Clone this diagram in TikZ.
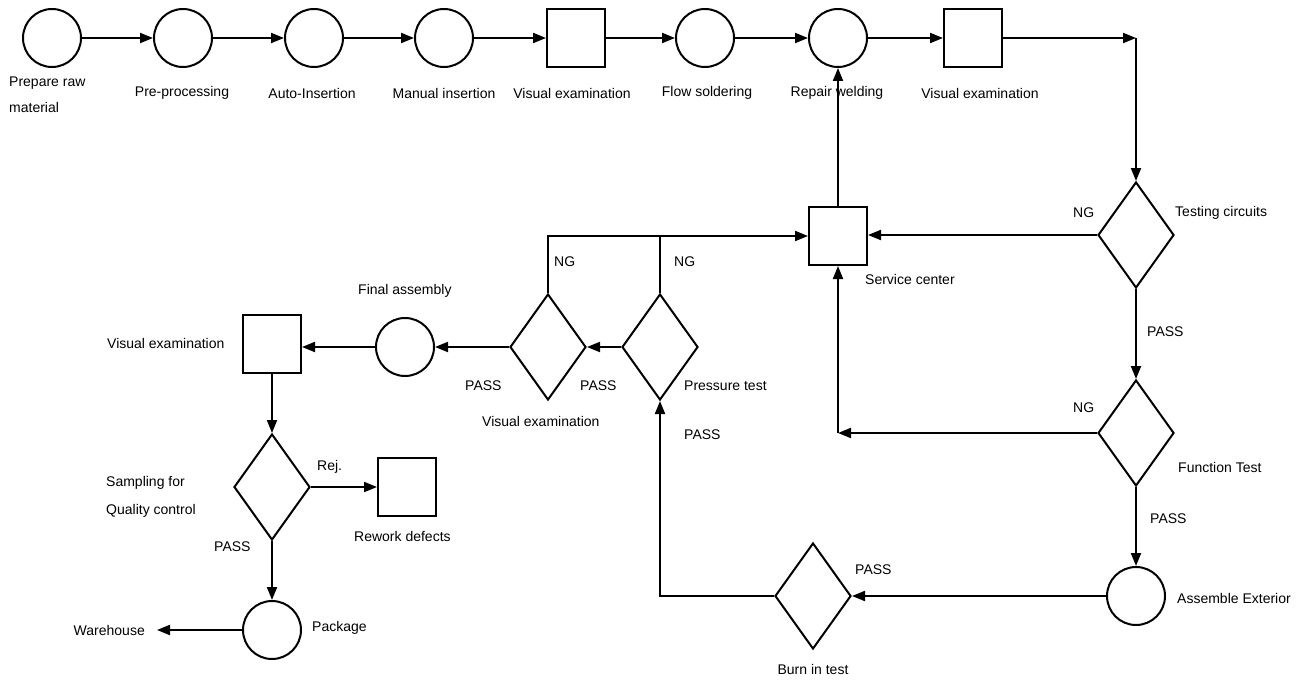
\documentclass[tikz,border=0pt]{standalone}
\usepackage{fontspec}
\setmainfont{Liberation Sans}
\usetikzlibrary{arrows.meta,shapes.geometric}
\begin{document}
\begin{tikzpicture}[x=1pt,y=-1pt,
  lbl/.style={font=\fontsize{14}{17}\selectfont, inner sep=0pt},
  circ/.style={draw, circle, line width=2pt, minimum size=58pt, inner sep=0pt},
  sqr/.style={draw, rectangle, line width=2pt, minimum size=58pt, inner sep=0pt},
  dia/.style={draw, diamond, line width=2pt, minimum width=76pt, minimum height=106pt, inner sep=0pt},
  conn/.style={line width=2pt},
  arr/.style={line width=2pt, -{Triangle[length=13pt,width=10pt]}}]
\useasboundingbox (0,0) rectangle (1306,682);
% top row
\node[circ] (c1) at (52,38) {};
\node[circ] (c2) at (183,38) {};
\node[circ] (c3) at (314,38) {};
\node[circ] (c4) at (444,38) {};
\node[sqr]  (s1) at (576,38) {};
\node[circ] (c5) at (705,38) {};
\node[circ] (rw) at (838,38) {};
\node[sqr]  (s2) at (973,38) {};
\coordinate (k1) at (1136,38);
% right column
\node[dia] (tc) at (1136,235) {};
\node[sqr] (sc) at (838,236) {};
\node[dia] (ft) at (1136,433) {};
\coordinate (k2) at (838,433);
\node[circ] (ae) at (1136,596) {};
\node[dia] (bt) at (813,596) {};
% middle row
\node[dia] (pt) at (660,347) {};
\node[dia] (vd) at (548,347) {};
\node[circ] (fa) at (405,347) {};
\node[sqr] (ve) at (272,344) {};
\node[dia] (sq) at (272,487) {};
\node[sqr] (rd) at (407,487) {};
\node[circ] (pk) at (272,630) {};
\node[lbl, anchor=east] (wh) at (145,630) {Warehouse};
% labels
\node[lbl, anchor=west, align=left, font=\fontsize{14}{26}\selectfont] (l1) at (9,95) {Prepare raw\\material};
\node[lbl] (l2) at (182,93) {Pre-processing};
\node[lbl] (l3) at (312,93) {Auto-Insertion};
\node[lbl] (l4) at (444,93) {Manual insertion};
\node[lbl] (l5) at (572,93) {Visual examination};
\node[lbl] (l6) at (707,93) {Flow soldering};
\node[lbl] (l7) at (837,93) {Repair welding};
\node[lbl] (l8) at (980,93) {Visual examination};
\node[lbl, anchor=west] (l9) at (1073,213) {NG};
\node[lbl, anchor=west] (l10) at (1175,213) {Testing circuits};
\node[lbl, anchor=west] (l11) at (865,279) {Service center};
\node[lbl, anchor=west] (l12) at (1147,332) {PASS};
\node[lbl, anchor=west] (l13) at (1073,408) {NG};
\node[lbl, anchor=west] (l14) at (1178,467) {Function Test};
\node[lbl, anchor=west] (l15) at (1150,519) {PASS};
\node[lbl, anchor=west] (l16) at (1177,598) {Assemble Exterior};
\node[lbl, anchor=west] (l17) at (855,570) {PASS};
\node[lbl] (l18) at (813,669) {Burn in test};
\node[lbl, anchor=west] (l19) at (684,435) {PASS};
\node[lbl, anchor=west] (l20) at (684,386) {Pressure test};
\node[lbl, anchor=west] (l21) at (580,386) {PASS};
\node[lbl, anchor=west] (l22) at (465,386) {PASS};
\node[lbl, anchor=west] (l23) at (482,421) {Visual examination};
\node[lbl, anchor=west] (l24) at (554,262) {NG};
\node[lbl, anchor=west] (l25) at (674,262) {NG};
\node[lbl, anchor=west] (l26) at (358,291) {Final assembly};
\node[lbl, anchor=west] (l27) at (107,343) {Visual examination};
\node[lbl, anchor=west, align=left, font=\fontsize{14}{28}\selectfont] (l28) at (106,497) {Sampling for\\Quality control};
\node[lbl, anchor=west] (l29) at (317,467) {Rej.};
\node[lbl, anchor=west] (l30) at (354,536) {Rework defects};
\node[lbl, anchor=west] (l31) at (214,547) {PASS};
\node[lbl, anchor=west] (l32) at (312,628) {Package};
% connectors
\draw[arr] (c1) -- (c2);
\draw[arr] (c2) -- (c3);
\draw[arr] (c3) -- (c4);
\draw[arr] (c4) -- (s1);
\draw[arr] (s1) -- (c5);
\draw[arr] (c5) -- (rw);
\draw[arr] (rw) -- (s2);
\draw[arr] (s2) -- (k1);
\draw[arr] (k1) -- (tc.north);
\draw[arr] (tc.west) -- (sc.east |- tc.west);
\draw[arr] (tc.south) -- (ft.north);
\draw[arr] (ft.west) -- (k2);
\draw[arr] (k2) -- (sc.south);
\draw[arr] (sc.north) -- (rw.south);
\draw[arr] (ft.south) -- (ae.north);
\draw[arr] (ae.west) -- (bt.east);
\draw[arr] (bt.west) -| (pt.south);
\draw[arr] (pt.west) -- (vd.east);
\draw[arr] (vd.north) |- (sc.west);
\draw[conn] (pt.north) -- (pt.north |- sc.west);
\draw[arr] (vd.west) -- (fa.east);
\draw[arr] (fa.west) -- (fa.west -| ve.east);
\draw[arr] (ve.south) -- (sq.north);
\draw[arr] (sq.east) -- (rd.west);
\draw[arr] (sq.south) -- (pk.north);
\draw[arr] (pk.west) -- ([xshift=12pt]wh.east);
\end{tikzpicture}
\end{document}
